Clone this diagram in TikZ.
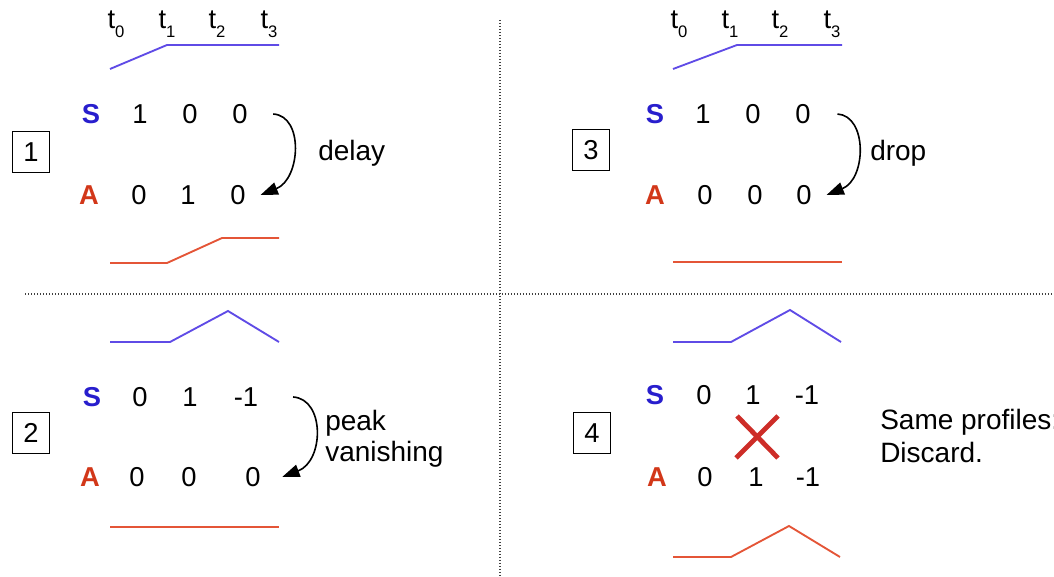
\documentclass[tikz,border=0pt]{standalone}
\usepackage{fontspec}
\setmainfont{Liberation Sans}
\usetikzlibrary{arrows.meta}
\definecolor{sblue}{RGB}{40,30,205}
\definecolor{ared}{RGB}{210,55,25}
\definecolor{lblue}{RGB}{95,75,230}
\definecolor{lred}{RGB}{228,85,55}
\definecolor{xred}{RGB}{205,45,40}
\newcommand{\tlab}[1]{t\raisebox{-6.5pt}{\fontsize{12.5}{12}\selectfont #1}}
\begin{document}
\begin{tikzpicture}[x=0.75pt,y=-0.75pt,
  txt/.style={font=\fontsize{20.5}{24}\selectfont, inner sep=0pt},
  lab/.style={font=\fontsize{21}{24}\selectfont, inner sep=0pt},
  slab/.style={txt, font=\fontsize{20.5}{24}\selectfont\bfseries, text=sblue},
  alab/.style={txt, font=\fontsize{20.5}{24}\selectfont\bfseries, text=ared},
  numbox/.style={draw, line width=1.1pt, minimum width=28pt, minimum height=31pt, inner sep=0pt, font=\fontsize{20.5}{24}\selectfont},
  bline/.style={lblue, line width=1.4pt},
  rline/.style={lred, line width=1.4pt},
  sep/.style={black!75, line width=1.3pt, dash pattern=on 1.1pt off 1.15pt},
  arr/.style={line width=1.2pt, -{Triangle[length=13pt, width=9.5pt]}},
  tl/.style={txt, anchor=base}]
\useasboundingbox (0,0) rectangle (1054,577);
\clip (0,0) rectangle (1054,577);

% separators
\coordinate (hl) at (25,294); \coordinate (hr) at (1054,294);
\coordinate (vt) at (500,20); \coordinate (vb) at (500,577);
\draw[sep] (hl) -- (hr);
\draw[sep] (vt) -- (vb);

% ---------- Quadrant 1 ----------
\node[tl] (q1t0) at (116,29) {\tlab{0}};
\node[tl] (q1t1) at (167,29) {\tlab{1}};
\node[tl] (q1t2) at (217,29) {\tlab{2}};
\node[tl] (q1t3) at (269,29) {\tlab{3}};
\draw[bline] (110,69) -- (167,45) -- (279,45);
\node[numbox] (b1) at (31,152) {1};
\node[slab] (q1s) at (91,114) {S};
\node[txt] (q1s1) at (140,114) {1};
\node[txt] (q1s2) at (190,114) {0};
\node[txt] (q1s3) at (240,114) {0};
\node[alab] (q1a) at (89,195) {A};
\node[txt] (q1a1) at (139,195) {0};
\node[txt] (q1a2) at (188,195) {1};
\node[txt] (q1a3) at (238,195) {0};
\draw[arr] ([xshift=19]q1s3.east) .. controls +(31,2) and +(40,-16) .. ([xshift=11]q1a3.east);
\node[lab, anchor=base west] (q1lab) at (318,161) {delay};
\draw[rline] (110,263) -- (167,263) -- (222,238) -- (279,238);

% ---------- Quadrant 3 ----------
\node[tl] (q3t0) at (679,29) {\tlab{0}};
\node[tl] (q3t1) at (730,29) {\tlab{1}};
\node[tl] (q3t2) at (780,29) {\tlab{2}};
\node[tl] (q3t3) at (832,29) {\tlab{3}};
\draw[bline] (673,69) -- (737,45) -- (842,45);
\node[numbox] (b3) at (591,150) {3};
\node[slab] (q3s) at (655,114) {S};
\node[txt] (q3s1) at (703,114) {1};
\node[txt] (q3s2) at (753,114) {0};
\node[txt] (q3s3) at (803,114) {0};
\node[alab] (q3a) at (655,195) {A};
\node[txt] (q3a1) at (705,195) {0};
\node[txt] (q3a2) at (755,195) {0};
\node[txt] (q3a3) at (804,195) {0};
\draw[arr] ([xshift=20]q3s3.east) .. controls +(30,2) and +(40,-16) .. ([xshift=11]q3a3.east);
\node[lab, anchor=base west] (q3lab) at (870,161) {drop};
\draw[rline] (673,262) -- (842,262);

% ---------- Quadrant 2 ----------
\draw[bline] (110,342) -- (170,342) -- (228,311) -- (279,342);
\node[numbox] (b2) at (31,433) {2};
\node[slab] (q2s) at (92,397) {S};
\node[txt] (q2s1) at (140,397) {0};
\node[txt] (q2s2) at (190,397) {1};
\node[txt] (q2s3) at (246,397) {-1};
\node[alab] (q2a) at (90,477) {A};
\node[txt] (q2a1) at (137,477) {0};
\node[txt] (q2a2) at (189,477) {0};
\node[txt] (q2a3) at (253,477) {0};
\draw[arr] ([xshift=26]q2s3.east) .. controls +(32,2) and +(42,-16) .. ([xshift=16]q2a3.east);
\node[lab, anchor=base west] (q2lab1) at (325,431) {peak};
\node[lab, anchor=base west] (q2lab2) at (325,461) {vanishing};
\draw[rline] (110,527) -- (279,527);

% ---------- Quadrant 4 ----------
\draw[bline] (673,342) -- (731,342) -- (790,310) -- (841,342);
\node[numbox] (b4) at (592,433) {4};
\node[slab] (q4s) at (655,395) {S};
\node[txt] (q4s1) at (704,395) {0};
\node[txt] (q4s2) at (753,395) {1};
\node[txt] (q4s3) at (807,395) {-1};
\node[alab] (q4a) at (657,477) {A};
\node[txt] (q4a1) at (705,477) {0};
\node[txt] (q4a2) at (756,477) {1};
\node[txt] (q4a3) at (808,477) {-1};
\coordinate (x1) at (737,416); \coordinate (x2) at (778,458);
\coordinate (x3) at (778,416); \coordinate (x4) at (736,458);
\draw[xred, line width=3.6pt] (x1) -- (x2);
\draw[xred, line width=3.6pt] (x3) -- (x4);
\node[lab, anchor=base west] (q4lab1) at (880,430) {Same profiles:};
\node[lab, anchor=base west] (q4lab2) at (880,462) {Discard.};
\draw[rline] (673,557) -- (731,557) -- (789,526) -- (840,557);
\end{tikzpicture}
\end{document}
